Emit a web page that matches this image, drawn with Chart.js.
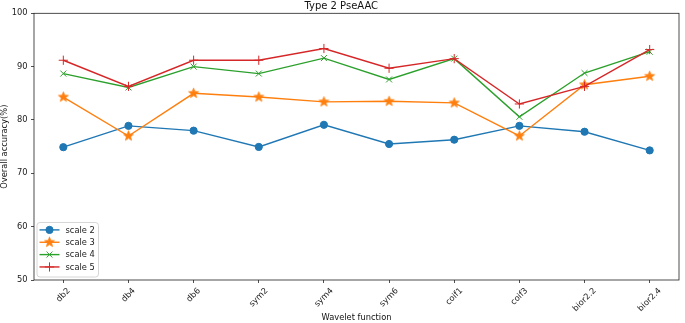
<!DOCTYPE html>
<html lang="en">
<head>
  <meta charset="UTF-8" />
  <title>Type 2 PseAAC</title>
  <script src="https://cdn.jsdelivr.net/npm/chart.js"></script>
  <style>
    * { margin: 0; padding: 0; box-sizing: border-box; }
    body { background: white; width: 685px; height: 323px; overflow: hidden; }
    canvas { display: block; }
  </style>
</head>
<body>
  <canvas id="chart" width="685" height="323"></canvas>

  <script>
    // values
    const wavelets = ["db2", "db4", "db6", "sym2", "sym4", "sym6", "coif1", "coif3", "bior2.2", "bior2.4"];
    const scale2 = [74.9, 78.9, 78.0, 74.95, 79.1, 75.5, 76.3, 78.9, 77.8, 74.3];
    const scale3 = [84.3, 77.0, 85.0, 84.3, 83.4, 83.5, 83.2, 77.0, 86.6, 88.2];
    const scale4 = [88.7, 86.1, 90.0, 88.7, 91.6, 87.6, 91.5, 80.6, 88.8, 92.8];
    const scale5 = [91.2, 86.3, 91.2, 91.2, 93.4, 89.7, 91.5, 83.0, 86.3, 93.2];
    const yTicks = [50, 60, 70, 80, 90, 100];

    const FONT = "DejaVu Sans";
    const TICK_FONT = "8.3px '" + FONT + "'";

    function starImage(color, r) {
      const c = document.createElement("canvas");
      const s = Math.ceil(r * 2 + 2);
      c.width = s; c.height = s;
      const g = c.getContext("2d");
      g.fillStyle = color;
      g.strokeStyle = color;
      g.lineWidth = 0.8;
      g.beginPath();
      for (let i = 0; i < 10; i++) {
        const a = -Math.PI / 2 + i * Math.PI / 5;
        const rr = i % 2 ? r * 0.42 : r;
        g.lineTo(s / 2 + rr * Math.cos(a), s / 2 + rr * Math.sin(a));
      }
      g.closePath();
      g.fill();
      g.stroke();
      return c;
    }

    function series(label, values, color, style, radius, order) {
      return {
        label: label,
        data: values.map((v, i) => ({ x: i, y: v })),
        borderColor: color,
        backgroundColor: color,
        borderWidth: 1.4,
        pointStyle: style,
        pointRadius: radius,
        pointBorderWidth: 1,
        pointBorderColor: color,
        pointBackgroundColor: color,
        tension: 0,
        order: order
      };
    }

    const datasets = [
      series("scale 2", scale2, "#1f77b4", "circle", 3.6, 4),
      series("scale 3", scale3, "#ff7f0e", starImage("#ff7f0e", 5.2), 5, 3),
      series("scale 4", scale4, "#2ca02c", "crossRot", 4.2, 2),
      series("scale 5", scale5, "#d62728", "cross", 4.6, 1)
    ];

    // frame, rotated x labels (centred like matplotlib) and legend inside lower left
    const framePlugin = {
      id: "frame",
      afterDraw(chart) {
        const { ctx, chartArea: a } = chart;
        const xs = chart.scales.x;
        ctx.save();
        ctx.strokeStyle = "#222";
        ctx.lineWidth = 0.8;
        ctx.strokeRect(a.left, a.top, a.right - a.left, a.bottom - a.top);

        // x tick labels, rotated 45deg, bbox centred on tick
        ctx.font = TICK_FONT;
        ctx.fillStyle = "#222";
        ctx.textAlign = "center";
        ctx.textBaseline = "middle";
        const c45 = Math.SQRT1_2;
        xs.ticks.forEach(t => {
          const label = wavelets[t.value];
          const w = ctx.measureText(label).width;
          const h = 9.7;
          const bboxH = (w + h) * c45;
          const px = xs.getPixelForValue(t.value);
          const py = a.bottom + 6 + bboxH / 2;
          ctx.save();
          ctx.translate(px, py);
          ctx.rotate(-Math.PI / 4);
          ctx.fillText(label, 0, 0);
          ctx.restore();
        });

        // legend
        const bx = a.left + 3, by = a.bottom - 57.5, bw = 61.5, bh = 54.5;
        ctx.beginPath();
        ctx.roundRect(bx, by, bw, bh, 3);
        ctx.fillStyle = "rgba(255,255,255,0.8)";
        ctx.fill();
        ctx.strokeStyle = "#cccccc";
        ctx.lineWidth = 0.8;
        ctx.stroke();

        ctx.font = TICK_FONT;
        ctx.textAlign = "left";
        ctx.textBaseline = "middle";
        datasets.forEach((ds, i) => {
          const y = by + 7.4 + i * 12.35;
          ctx.strokeStyle = ds.borderColor;
          ctx.lineWidth = ds.borderWidth;
          ctx.beginPath();
          ctx.moveTo(bx + 2.5, y);
          ctx.lineTo(bx + 22.5, y);
          ctx.stroke();
          ctx.fillStyle = ds.borderColor;
          ctx.lineWidth = 1;
          Chart.helpers.drawPoint(ctx, {
            pointStyle: ds.pointStyle,
            radius: ds.pointRadius,
            rotation: 0,
            borderWidth: 1
          }, bx + 12.5, y);
          ctx.fillStyle = "#222";
          ctx.fillText(ds.label, bx + 28.5, y + 0.5);
        });
        ctx.restore();
      }
    };

    new Chart(document.getElementById("chart"), {
      type: "line",
      data: { datasets: datasets },
      options: {
        responsive: false,
        animation: false,
        layout: { padding: { right: 2.5, top: 0, left: 0, bottom: 0 } },
        plugins: {
          legend: { display: false },
          tooltip: { enabled: false },
          title: {
            display: true,
            text: "Type 2 PseAAC",
            color: "#111",
            font: { family: FONT, size: 10, weight: "normal", lineHeight: 1.33 },
            padding: 0
          }
        },
        scales: {
          x: {
            type: "linear",
            min: -0.45,
            max: 9.45,
            afterFit(scale) { scale.height = 43; },
            afterBuildTicks(scale) {
              scale.ticks = wavelets.map((w, i) => ({ value: i }));
            },
            ticks: { display: false },
            grid: {
              display: true,
              drawOnChartArea: false,
              drawTicks: true,
              tickLength: 3,
              color: "#222",
              lineWidth: 0.8
            },
            border: { display: false },
            title: {
              display: true,
              text: "Wavelet function",
              color: "#111",
              font: { family: FONT, size: 8.3 },
              padding: { top: 0, bottom: 0 }
            }
          },
          y: {
            min: 50,
            max: 100,
            afterFit(scale) { scale.width = 34; },
            afterBuildTicks(scale) {
              scale.ticks = yTicks.map(v => ({ value: v }));
            },
            ticks: {
              padding: 3.5,
              color: "#222",
              font: { family: FONT, size: 8.3 }
            },
            grid: {
              display: true,
              drawOnChartArea: false,
              drawTicks: true,
              tickLength: 3,
              color: "#222",
              lineWidth: 0.8
            },
            border: { display: false },
            title: {
              display: true,
              text: "Overall accuracy(%)",
              color: "#111",
              font: { family: FONT, size: 8.3 },
              padding: { top: 0, bottom: 0 }
            }
          }
        }
      },
      plugins: [framePlugin]
    });
  </script>
</body>
</html>
